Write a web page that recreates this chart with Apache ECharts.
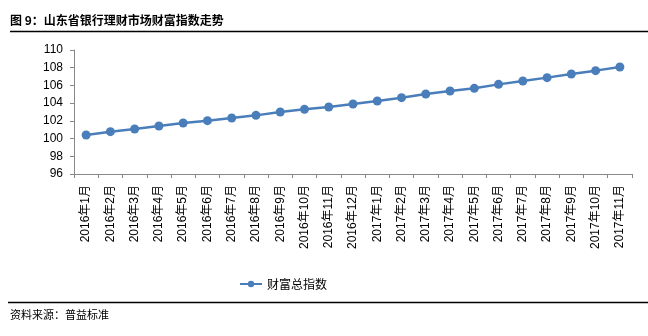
<!DOCTYPE html>
<html>
<head>
<meta charset="utf-8">
<script src="https://cdn.jsdelivr.net/npm/echarts@6/dist/echarts.min.js"></script>
<style>
html,body{margin:0;padding:0;background:#fff;}
#c{width:648px;height:336px;}
</style>
</head>
<body>
<div id="c"></div>
<script>
var categories = ['2016年1月','2016年2月','2016年3月','2016年4月','2016年5月','2016年6月','2016年7月','2016年8月','2016年9月','2016年10月','2016年11月','2016年12月','2017年1月','2017年2月','2017年3月','2017年4月','2017年5月','2017年6月','2017年7月','2017年8月','2017年9月','2017年10月','2017年11月'];
var wealthIndex = [100.40,100.78,101.08,101.42,101.76,102.02,102.32,102.62,103.00,103.30,103.56,103.90,104.24,104.62,105.03,105.37,105.67,106.12,106.50,106.88,107.29,107.67,108.08];
var seriesName = '财富总指数';
var titleText = '图 9：山东省银行理财市场财富指数走势';
var sourceText = '资料来源：普益标准';

var FONT = '"Liberation Sans", "Noto Sans CJK SC", sans-serif';
var CJK = '"Noto Sans CJK SC", sans-serif';
var chart = echarts.init(document.getElementById('c'));
chart.setOption({
  animation: false,
  backgroundColor: '#fff',
  textStyle: {fontFamily: FONT},
  grid: {left: 74, right: 16, top: 50, bottom: 162, containLabel: false},
  legend: {
    data: [seriesName],
    left: 234,
    top: 273,
    itemWidth: 22,
    itemHeight: 8,
    itemGap: 3,
    textStyle: {fontSize: 12, color: '#000', fontFamily: CJK}
  },
  xAxis: {
    type: 'category',
    data: categories,
    boundaryGap: true,
    axisLine: {lineStyle: {color: '#888', width: 1}},
    axisTick: {show: true, length: 4, lineStyle: {color: '#888'}},
    axisLabel: {rotate: 90, fontSize: 12, color: '#000', margin: 11, interval: 0, fontFamily: FONT}
  },
  yAxis: {
    type: 'value',
    min: 96, max: 110, interval: 2,
    axisLine: {show: true, lineStyle: {color: '#888', width: 1}},
    axisTick: {show: true, length: 4, lineStyle: {color: '#888'}},
    splitLine: {show: false},
    axisLabel: {fontSize: 12, color: '#000', margin: 11, fontFamily: FONT}
  },
  series: [{
    name: seriesName,
    type: 'line',
    data: wealthIndex,
    symbol: 'circle',
    symbolSize: 9,
    itemStyle: {color: '#4a7ebb'},
    lineStyle: {color: '#4a7ebb', width: 2.5}
  }],
  graphic: [
    {type: 'text', left: 10, top: 14, style: {text: titleText, fill: '#000', font: 'bold 12px ' + CJK}},
    {type: 'line', shape: {x1: 10, y1: 31.5, x2: 648, y2: 31.5}, style: {stroke: '#000', lineWidth: 1.5}},
    {type: 'line', shape: {x1: 8, y1: 302.5, x2: 648, y2: 302.5}, style: {stroke: '#000', lineWidth: 1.5}},
    {type: 'text', left: 10, top: 309, style: {text: sourceText, fill: '#000', font: '11px ' + CJK}}
  ]
});
</script>
</body>
</html>
